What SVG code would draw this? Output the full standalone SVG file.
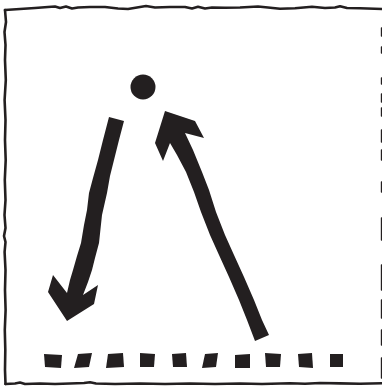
<svg xmlns="http://www.w3.org/2000/svg" width="382" height="387" viewBox="0 0 382 387">
<style>
.border{fill:none;stroke:#231f20;stroke-width:2.6;stroke-linejoin:round;stroke-linecap:round}
.edge{fill:none;stroke:#231f20;stroke-width:1.6;stroke-linecap:round}
.ink{fill:#231f20;stroke:none}
</style>
<rect width="382" height="387" fill="#ffffff"/>
<g id="frame">
<path class="border" d="M5,10 L20,9 L35,8 L48,7 L55,6.5 L60,8 L66,6.5 L72,8.5 L78,7.5 L90,7 L105,7 L118,8.5 L128,9 L140,7 L146,6 L155,7.5 L170,7 L185,7 L192,8.5 L198,6.8 L205,8.5 L212,7.5 L225,7.8 L240,7.5 L258,6.5 L268,7.5 L280,8.8 L295,8.2 L312,6.8 L325,8 L335,7.5 L340,6.2 L347,8 L360,8.2 L382,9"/>
<path class="border" d="M5,10 L6,22 L4.5,32 L5.5,45 L5,60 L5.8,80 L4.6,100 L5.5,120 L5,140 L5.7,160 L4.8,180 L5.5,200 L4.5,215 L5.5,228 L4,236 L5.5,242 L4.6,252 L5.5,270 L5,290 L5.6,310 L4.8,330 L5.3,350 L5,370 L5.5,384"/>
<path class="border" d="M5.5,384 L15,383.5 L20,382.5 L25,384 L40,383.5 L55,384 L70,383.5 L84,383 L90,382.2 L96,383.5 L115,384 L140,383.5 L165,384 L190,383.5 L215,384 L240,383.5 L262,384 L290,383.3 L305,383.8 L320,383 L340,383.4 L360,383.8 L382,383.2"/>
<path class="edge" d="M381.6,28 L381.6,36 M381.6,47 L381.6,53 M381.6,78 L381.6,84 M381.6,94 L381.6,102 M381.6,108 L381.6,116 M381.6,130 L381.6,142 M381.6,150 L381.6,160 M381.6,182 L381.6,192 M381.6,218 L381.6,240 M381.6,265 L381.6,290 M381.6,300 L381.6,318 M381.6,330 L381.6,345 M381.6,358 L381.6,378"/>
</g>
<g id="dot">
<circle class="ink" cx="143" cy="87" r="12.5"/>
</g>
<g id="connectors">
<path id="arrow-down" class="ink" d="M109,117 L124,121 L119,140 L114,160 L110,176 L107,193 L102,215 L99,243 L95,258 L92,270 L88,282 L83,295 L98,285 L94,304 L67,321 L48,292 L53,275 L67,293 L70,280 L73,270 L77,256 L81,243 L84,225 L87,210 L89,193 L93,178 L98,160 L103,140 Z"/>
<path id="arrow-up" class="ink" d="M165,111 L195,121 L204,138 L185,133 L193,150 L202,172 L209,190 L216,212 L225,235 L234,255 L244,277 L254,300 L262,320 L269,335 L255,341 L247,320 L239,300 L229,277 L219,255 L210,235 L201,212 L194,192 L186,172 L177,155 L170,143 L163,161 L155,143 Z"/>
</g>
<g id="dashes">
<polygon class="ink" points="44,354 62,355 61,368 45,367"/>
<polygon class="ink" points="78,354 92,353 89,367 74,368"/>
<polygon class="ink" points="108,354 123,353 124,367 106,368"/>
<polygon class="ink" points="140,353 155,354 154,367 140,367"/>
<polygon class="ink" points="172,354 186,353 187,367 173,367"/>
<polygon class="ink" points="205,354 218,353 216,367 202,368"/>
<polygon class="ink" points="235,355 250,354 250,368 235,368"/>
<polygon class="ink" points="265,353 281,354 280,367 266,367"/>
<polygon class="ink" points="298,354 312,353 313,368 299,367"/>
<polygon class="ink" points="330,354 343,354 343,367 330,367"/>
</g>
</svg>
